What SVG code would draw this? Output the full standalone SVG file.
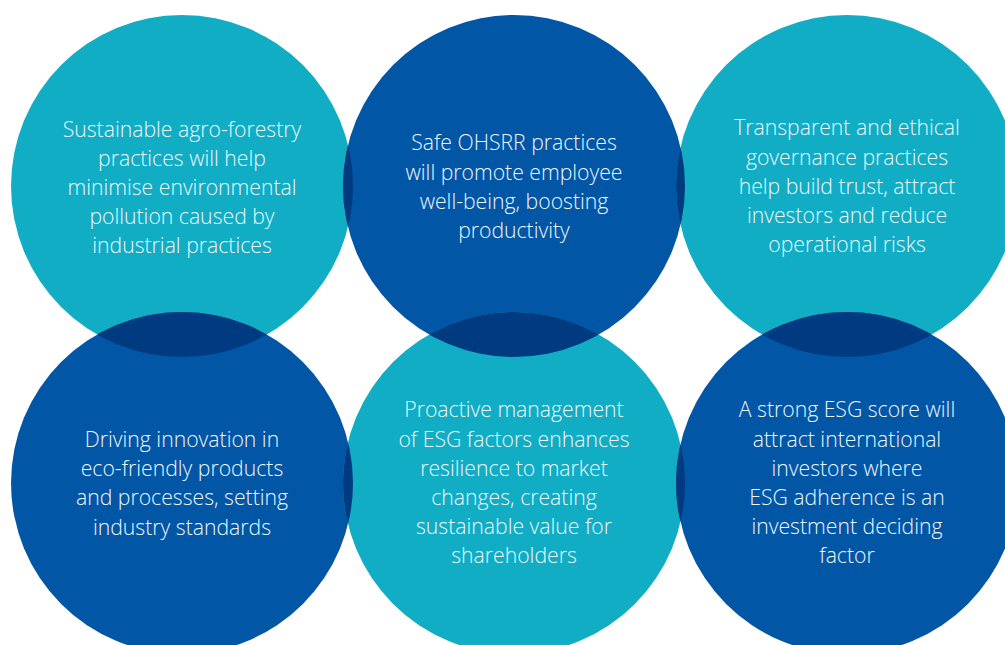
<svg xmlns="http://www.w3.org/2000/svg" width="1005" height="645" viewBox="0 0 1005 645">
  <style>
    .light { fill: #10adc5; }
    .dark { fill: #0256a6; }
    .lens { fill: #003a80; }
    .t { font-family: "Open Sans", "Liberation Sans", sans-serif; font-weight: 300; font-size: 21.2px; fill: #eef7fa; text-anchor: middle; }
  </style>
  <defs>
    <clipPath id="cTL"><circle cx="182" cy="186" r="171"/></clipPath>
    <clipPath id="cTM"><circle cx="514" cy="186" r="171"/></clipPath>
    <clipPath id="cTR"><circle cx="847" cy="186" r="171"/></clipPath>
    <clipPath id="cBM"><circle cx="514" cy="483" r="171"/></clipPath>
  </defs>
  <rect width="1005" height="645" fill="#ffffff"/>
  <g id="shapes">
    <circle class="light" cx="182" cy="186" r="171"/>
    <circle class="dark" cx="514" cy="186" r="171"/>
    <circle class="light" cx="847" cy="186" r="171"/>
    <circle class="dark" cx="182" cy="483" r="171"/>
    <circle class="light" cx="514" cy="483" r="171"/>
    <circle class="dark" cx="847" cy="483" r="171"/>
  </g>
  <g id="overlaps">
    <circle class="lens" cx="514" cy="186" r="171" clip-path="url(#cTL)"/>
    <circle class="lens" cx="182" cy="483" r="171" clip-path="url(#cTL)"/>
    <circle class="lens" cx="847" cy="186" r="171" clip-path="url(#cTM)"/>
    <circle class="lens" cx="514" cy="483" r="171" clip-path="url(#cTM)"/>
    <circle class="lens" cx="847" cy="483" r="171" clip-path="url(#cTR)"/>
    <circle class="lens" cx="182" cy="483" r="171" clip-path="url(#cBM)"/>
    <circle class="lens" cx="847" cy="483" r="171" clip-path="url(#cBM)"/>
  </g>
  <g id="node-tl">
    <text class="t" x="182" y="137">Sustainable agro-forestry</text>
    <text class="t" x="182" y="166">practices will help</text>
    <text class="t" x="182" y="195">minimise environmental</text>
    <text class="t" x="182" y="224">pollution caused by</text>
    <text class="t" x="182" y="253">industrial practices</text>
  </g>
  <g id="node-tm">
    <text class="t" x="514" y="150">Safe OHSRR practices</text>
    <text class="t" x="514" y="180">will promote employee</text>
    <text class="t" x="514" y="209">well-being, boosting</text>
    <text class="t" x="514" y="238">productivity</text>
  </g>
  <g id="node-tr">
    <text class="t" x="847" y="135">Transparent and ethical</text>
    <text class="t" x="847" y="165">governance practices</text>
    <text class="t" x="847" y="194">help build trust, attract</text>
    <text class="t" x="847" y="223">investors and reduce</text>
    <text class="t" x="847" y="252">operational risks</text>
  </g>
  <g id="node-bl">
    <text class="t" x="182" y="447">Driving innovation in</text>
    <text class="t" x="182" y="476">eco-friendly products</text>
    <text class="t" x="182" y="505">and processes, setting</text>
    <text class="t" x="182" y="535">industry standards</text>
  </g>
  <g id="node-bm">
    <text class="t" x="514" y="417">Proactive management</text>
    <text class="t" x="514" y="447">of ESG factors enhances</text>
    <text class="t" x="514" y="476">resilience to market</text>
    <text class="t" x="514" y="505">changes, creating</text>
    <text class="t" x="514" y="534">sustainable value for</text>
    <text class="t" x="514" y="563">shareholders</text>
  </g>
  <g id="node-br">
    <text class="t" x="847" y="417">A strong ESG score will</text>
    <text class="t" x="847" y="447">attract international</text>
    <text class="t" x="847" y="476">investors where</text>
    <text class="t" x="847" y="505">ESG adherence is an</text>
    <text class="t" x="847" y="534">investment deciding</text>
    <text class="t" x="847" y="563">factor</text>
  </g>
</svg>
